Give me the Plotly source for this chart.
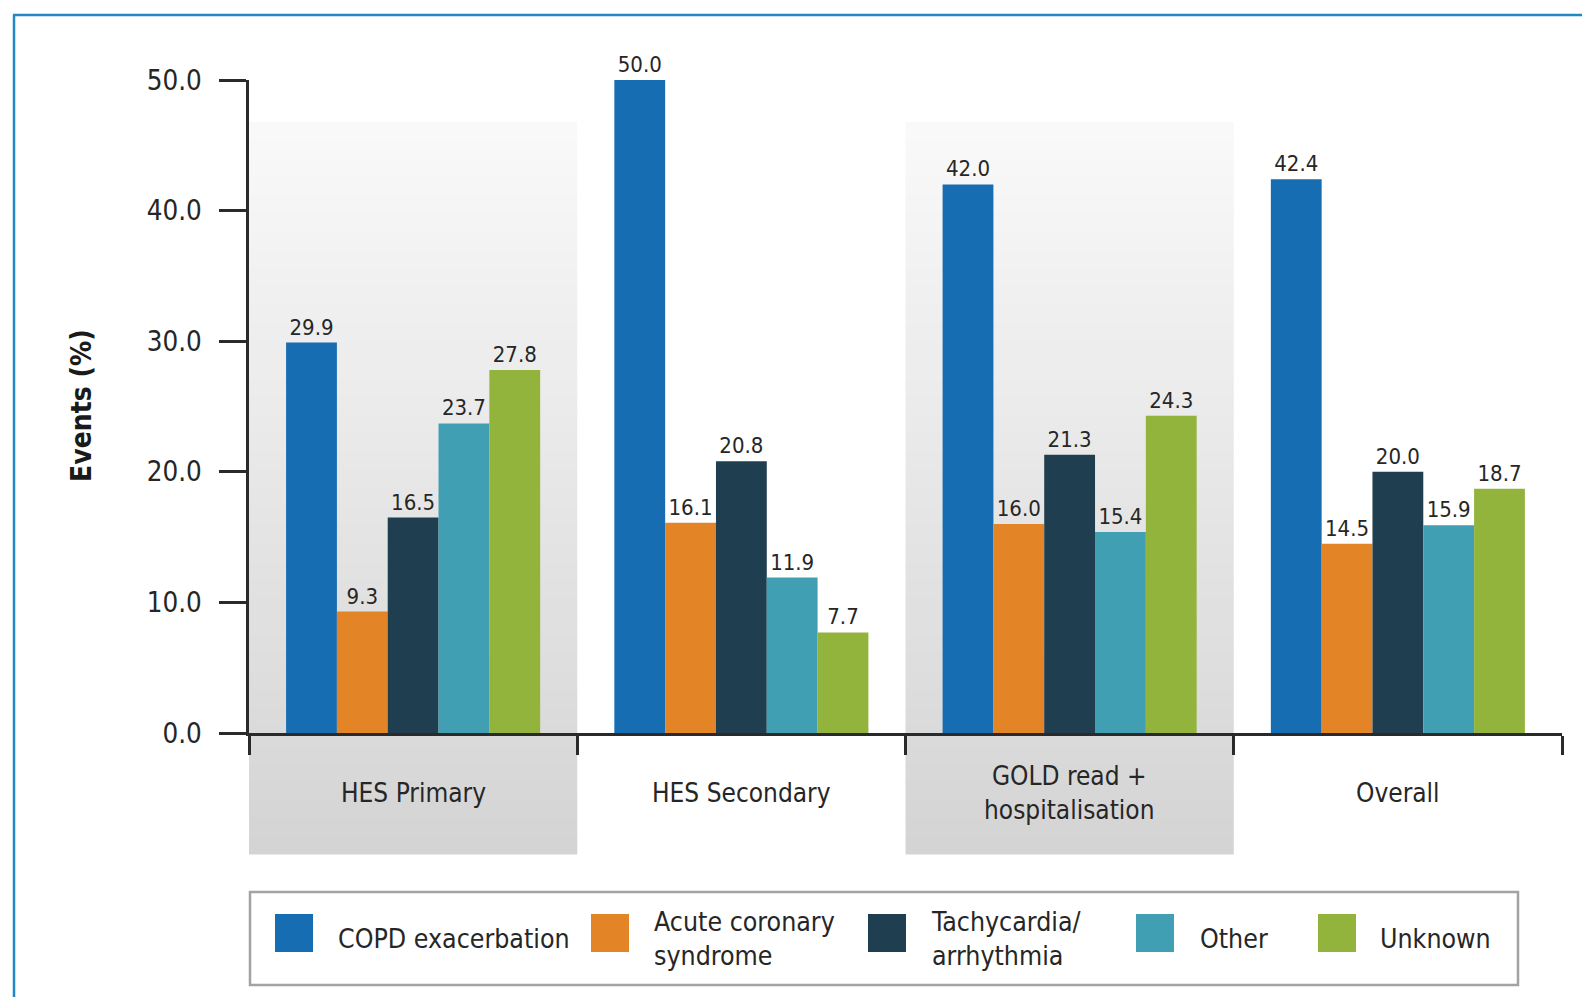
import plotly.graph_objects as go

# ---------------- data ----------------
categories = ["HES Primary", "HES Secondary", "GOLD read +<br>hospitalisation", "Overall"]
series_names = ["COPD exacerbation", "Acute coronary<br>syndrome", "Tachycardia/<br>arrhythmia", "Other", "Unknown"]
copd = [29.9, 50.0, 42.0, 42.4]
acute_coronary = [9.3, 16.1, 16.0, 14.5]
tachycardia = [16.5, 20.8, 21.3, 20.0]
other = [23.7, 11.9, 15.4, 15.9]
unknown = [27.8, 7.7, 24.3, 18.7]
y_tick_values = [0, 10, 20, 30, 40, 50]
y_tick_labels = ["0.0", "10.0", "20.0", "30.0", "40.0", "50.0"]
shaded_categories = [0, 2]

series_values = [copd, acute_coronary, tachycardia, other, unknown]
colors = ["#176db1", "#e38427", "#1f3e4f", "#409fb2", "#93b43c"]

FONT = "DejaVu Sans Condensed, Liberation Sans Narrow, sans-serif"
TXT = "#262626"

W, H = 1582, 997
L, R, T, B = 249, 20, 80, 264
PW, PH = W - L - R, H - T - B


def px(x):
    return (x - L) / PW


def py(y):
    return (H - B - y) / PH


fig = go.Figure()
for name, vals, col in zip(series_names, series_values, colors):
    fig.add_trace(go.Bar(
        x=categories, y=vals, name=name, marker=dict(color=col, line=dict(width=0)),
        texttemplate="%{y:.1f}", textposition="outside", cliponaxis=False,
        textfont=dict(family=FONT, size=22, color=TXT), showlegend=False,
    ))

shapes = []
# gradient shaded category panels
top_y, bot_y = 122, 854
n = 40
c_top, c_bot = (249, 249, 249), (213, 212, 212)
for ci in shaded_categories:
    for i in range(n):
        f = (i + 0.5) / n
        col = tuple(round(a + (b - a) * f) for a, b in zip(c_top, c_bot))
        y0 = top_y + (bot_y - top_y) * i / n
        y1 = top_y + (bot_y - top_y) * (i + 1) / n + 0.6
        shapes.append(dict(type="rect", xref="x", yref="paper", x0=ci - 0.5, x1=ci + 0.5,
                           y0=py(y1), y1=py(y0), fillcolor="rgb(%d,%d,%d)" % col,
                           line=dict(width=0), layer="below"))

# outer blue frame
frame_col = "#2088c2"
shapes.append(dict(type="line", xref="paper", yref="paper", x0=px(14), x1=px(14), y0=py(1000), y1=py(15),
                   line=dict(color=frame_col, width=2.5)))
shapes.append(dict(type="line", xref="paper", yref="paper", x0=px(13), x1=px(1590), y0=py(15), y1=py(15),
                   line=dict(color=frame_col, width=2.5)))

# legend box
shapes.append(dict(type="rect", xref="paper", yref="paper", x0=px(250), x1=px(1518), y0=py(985), y1=py(892),
                   line=dict(color="#a3a3a3", width=2.5), fillcolor="white"))

annotations = []
sw_x = [275, 591, 868, 1136, 1318]
tx_x = [336, 652, 929, 1198, 1378]
for name, col, sx, tx in zip(series_names, colors, sw_x, tx_x):
    shapes.append(dict(type="rect", xref="paper", yref="paper", x0=px(sx), x1=px(sx + 38),
                       y0=py(952), y1=py(914), fillcolor=col, line=dict(width=0)))
    annotations.append(dict(text=name, xref="paper", yref="paper", x=px(tx), y=py(938),
                            xanchor="left", yanchor="middle", showarrow=False, align="left",
                            font=dict(family=FONT, size=26.5, color=TXT)))

# category labels
for c in categories:
    annotations.append(dict(text=c, xref="x", yref="paper", x=c, y=py(793), xanchor="center",
                            yanchor="middle", showarrow=False, align="center",
                            font=dict(family=FONT, size=26, color=TXT)))

# y axis title
annotations.append(dict(text="<b>Events (%)</b>", xref="paper", yref="paper", x=px(81), y=py(406),
                        xanchor="center", yanchor="middle", textangle=-90, showarrow=False,
                        font=dict(family=FONT, size=28, color="#1a1a1a")))

fig.update_layout(
    width=W, height=H, margin=dict(l=L, r=R, t=T, b=B),
    paper_bgcolor="white", plot_bgcolor="rgba(0,0,0,0)",
    barmode="group", bargap=0.226, bargroupgap=0,
    shapes=shapes, annotations=annotations, showlegend=False,
    xaxis=dict(type="category", showline=True, linecolor="#2a2a2a", linewidth=2.5,
               ticks="outside", ticklen=19, tickwidth=2.5, tickcolor="#2a2a2a",
               tickson="boundaries", showticklabels=False, showgrid=False, zeroline=False,
               range=[-0.5, 3.5]),
    yaxis=dict(range=[0, 50], showline=True, linecolor="#2a2a2a", linewidth=2.5,
               ticks="outside", ticklen=27, tickwidth=2.5, tickcolor="#2a2a2a",
               tickvals=y_tick_values, ticktext=y_tick_labels, showgrid=False, zeroline=False,
               ticklabelstandoff=12, tickfont=dict(family=FONT, size=27.5, color=TXT)),
)

fig.write_html("out.html")
